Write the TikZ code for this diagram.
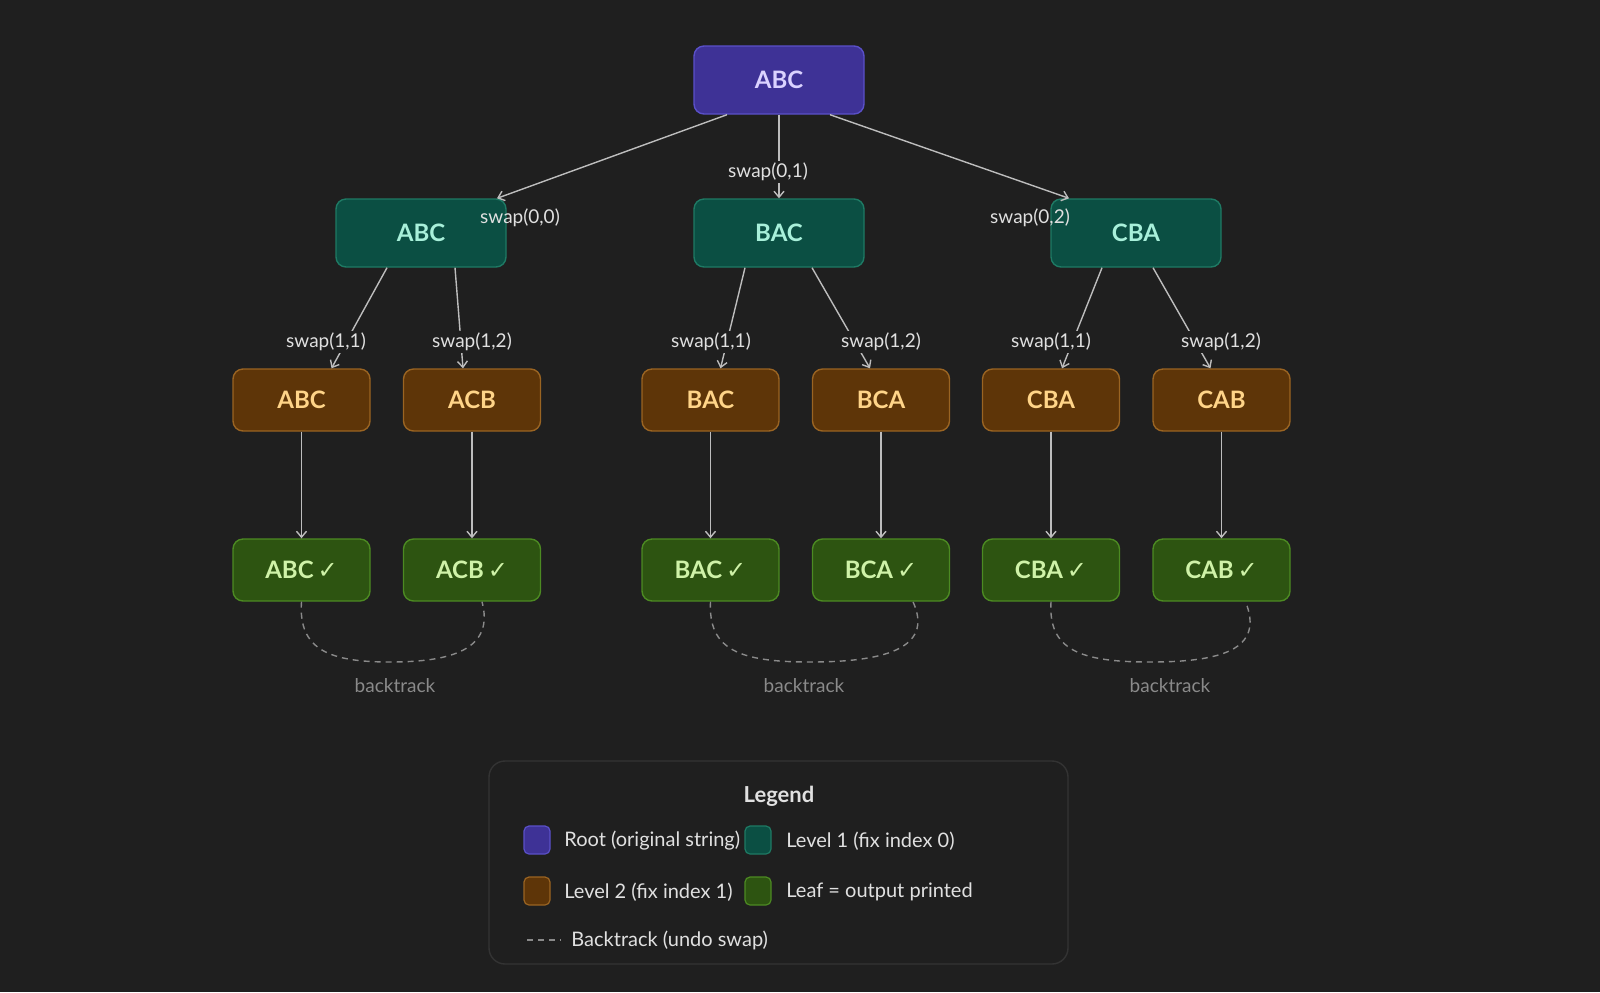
\documentclass[tikz,border=0pt]{standalone}
\usepackage{fontspec}
\setmainfont{Lato}
\newfontfamily\dvs{DejaVu Sans}
\usetikzlibrary{arrows.meta}
\definecolor{bg}{HTML}{1F1F1F}
\definecolor{rootf}{HTML}{3E3296}\definecolor{rootd}{HTML}{5A50C8}\definecolor{roott}{HTML}{DAD2FF}
\definecolor{lof}{HTML}{0B4F43}\definecolor{lod}{HTML}{1E7A64}\definecolor{lot}{HTML}{A8F0DA}
\definecolor{ltf}{HTML}{5E3508}\definecolor{ltd}{HTML}{9A6422}\definecolor{ltt}{HTML}{FFD488}
\definecolor{lff}{HTML}{2D5411}\definecolor{lfd}{HTML}{4C8A22}\definecolor{lft}{HTML}{CFF2A8}
\definecolor{edgec}{HTML}{BDBDBD}\definecolor{txt}{HTML}{E0E0E0}\definecolor{dim}{HTML}{8A8A8A}
\tikzset{
 box/.style={rounded corners=5pt,line width=0.7pt,minimum height=#1,inner sep=0pt,font=\bfseries\fontsize{12}{14}\selectfont},
 root/.style={box=34pt,minimum width=85pt,fill=rootf,draw=rootd,text=roott},
 lone/.style={box=34pt,minimum width=85pt,fill=lof,draw=lod,text=lot},
 ltwo/.style={box=31pt,minimum width=68.5pt,fill=ltf,draw=ltd,text=ltt},
 leaf/.style={box=31pt,minimum width=68.5pt,fill=lff,draw=lfd,text=lft},
 edge/.style={draw=edgec,line width=0.7pt,-{Straight Barb[length=3pt,width=5pt]}},
 lab/.style={text=txt,font=\fontsize{9.5}{11}\selectfont,inner sep=1pt},
 bt/.style={draw=dim,dashed,line width=0.7pt,dash pattern=on 3pt off 2.5pt},
 btl/.style={text=dim,font=\fontsize{9.5}{11}\selectfont},
 sw/.style={rounded corners=2.5pt,minimum width=13pt,minimum height=14pt,inner sep=0pt,line width=0.6pt},
 lt/.style={text=txt,font=\fontsize{10}{12}\selectfont,anchor=west,inner sep=0pt}
}
\begin{document}
\begin{tikzpicture}[x=0.5pt,y=-0.5pt]
\fill[bg] (0,0) rectangle (1600,992);
\useasboundingbox (0,0) rectangle (1600,992);
\node[root] (r) at (779,80) {\raisebox{-4pt}{ABC}};
\node[lone] (a) at (421,233) {\raisebox{-4pt}{ABC}};
\node[lone] (b) at (779,233) {\raisebox{-4pt}{BAC}};
\node[lone] (c) at (1136,233) {\raisebox{-4pt}{CBA}};
\foreach \n/\x/\t in {aa/301.5/ABC,ab/472/ACB,ba/710.5/BAC,bb/881/BCA,ca/1051/CBA,cb/1221.5/CAB}{
  \node[ltwo] (\n) at (\x,400) {\raisebox{-3pt}{\t}};
  \node[leaf] (\n l) at (\x,570) {\raisebox{-3pt}{\t\,{\dvs\mdseries ✓}}};
  \draw[edge] (\n) -- (\n l);
}
\draw[edge] ([xshift=-26pt]r.south) -- ([xshift=38pt]a.north);
\draw[edge] (r) -- (b);
\draw[edge] ([xshift=25.5pt]r.south) -- ([xshift=-33.5pt]c.north);
\node[lab] at (520,218) {swap(0,0)};
\node[lab,fill=bg] at (768,172) {swap(0,1)};
\node[lab] at (1030,218) {swap(0,2)};
\draw[edge] ([xshift=-17pt]a.south) -- ([xshift=15pt]aa.north);
\draw[edge] ([xshift=17pt]a.south) -- ([xshift=-4.5pt]ab.north);
\draw[edge] ([xshift=-17pt]b.south) -- ([xshift=5pt]ba.north);
\draw[edge] ([xshift=16.5pt]b.south) -- ([xshift=-5.5pt]bb.north);
\draw[edge] ([xshift=-17pt]c.south) -- ([xshift=5.5pt]ca.north);
\draw[edge] ([xshift=8.5pt]c.south) -- ([xshift=-5.5pt]cb.north);
\foreach \x/\t in {326/{swap(1,1)},472/{swap(1,2)},711/{swap(1,1)},881/{swap(1,2)},1051/{swap(1,1)},1221/{swap(1,2)}}
  \node[lab,fill=bg] at (\x,342) {\t};
\draw[bt] (aal.south) .. controls (298,650) and (330,662) .. (390,662) .. controls (450,662) and (495,650) .. ([xshift=5pt]abl.south);
\draw[bt] (bal.south) .. controls (708,650) and (740,662) .. (810,662) .. controls (880,662) and (935,650) .. ([xshift=16pt]bbl.south);
\draw[bt] (cal.south) .. controls (1048,650) and (1080,662) .. (1150,662) .. controls (1220,662) and (1265,650) .. ([xshift=12pt]cbl.south);
\node[btl] (bt1) at (395,686) {backtrack};
\node[btl] (bt2) at (804,686) {backtrack};
\node[btl] (bt3) at (1170,686) {backtrack};
% legend
\draw[fill=bg,draw=white!9!bg,rounded corners=8pt,line width=0.7pt] (489,761) rectangle (1068,964);
\node[text=txt,font=\bfseries\fontsize{11}{13}\selectfont] (lg) at (779,796) {Legend};
\node[lt] (t1) at (564,841) {Root (original string)};
\node[lt] (t2) at (786,841) {Level 1 (fix index 0)};
\node[lt] (t3) at (564,892) {Level 2 (fix index 1)};
\node[lt] (t4) at (786,892) {Leaf = output printed};
\node[sw,fill=rootf,draw=rootd] (s1) at (537,840) {};
\node[sw,fill=lof,draw=lod] (s2) at (758,840) {};
\node[sw,fill=ltf,draw=ltd] (s3) at (537,891) {};
\node[sw,fill=lff,draw=lfd] (s4) at (758,891) {};
\coordinate (d1) at (527,940); \coordinate (d2) at (561,940);
\draw[bt] (d1) -- (d2);
\node[lt] (t5) at (571,940) {Backtrack (undo swap)};
\end{tikzpicture}
\end{document}
